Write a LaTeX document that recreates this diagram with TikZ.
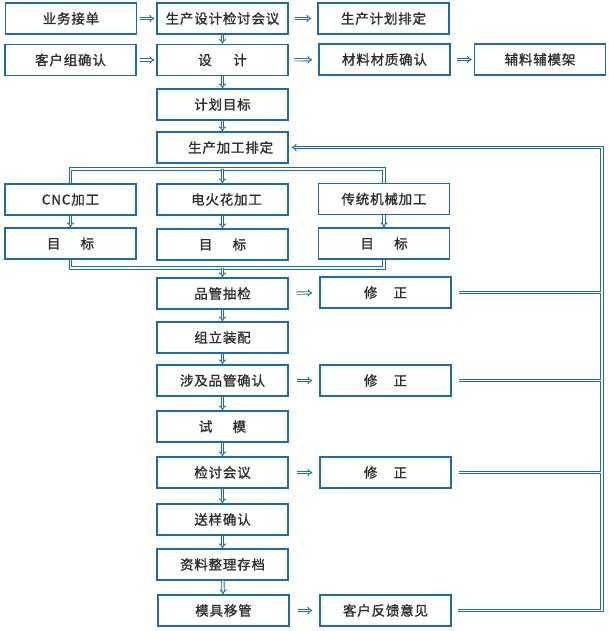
\documentclass[tikz,border=0pt]{standalone}
\usepackage{fontspec}
\setmainfont{Noto Sans CJK SC}[LetterSpace=6,FakeBold=1.2]
\usetikzlibrary{arrows.meta}
\definecolor{lineblue}{RGB}{28,108,168}
\definecolor{txtgray}{RGB}{45,45,45}
\tikzset{
  box/.style={draw=lineblue, line width=1.3pt, minimum width=131pt, minimum height=31pt,
    inner sep=0pt, text=txtgray, font=\fontsize{13.5}{15}\selectfont},
  dline/.style={draw=lineblue, double, double distance=1.5pt, line width=0.9pt},
  flow/.style={dline, -{Implies}},
}

\begin{document}
\begin{tikzpicture}[x=1pt,y=-1pt]
\useasboundingbox (0,0) rectangle (609,631);

\node[box] (A) at (71,18.5) {业务接单};
\node[box] (B) at (222.5,18.5) {生产设计检讨会议};
\node[box] (C) at (383.5,18.5) {生产计划排定};

\node[box] (D) at (70.5,60) {客户组确认};
\node[box] (E) at (222.5,60) {设\hspace{1.6em}计};
\node[box] (F) at (384.5,59.5) {材料材质确认};
\node[box] (G) at (540,59.5) {辅料辅模架};

\node[box] (H) at (222.5,104.5) {计划目标};
\node[box] (I) at (222.5,147.5) {\hspace{1.2em}生产加工排定};

\node[box] (J) at (70.5,199.5) {CNC加工};
\node[box] (K) at (222.5,199.5) {\hspace{0.6em}电火花加工};
\node[box] (L) at (384,199) {传统机械加工};

\node[box] (M) at (70.5,243.5) {目\hspace{1.5em}标};
\node[box] (N) at (222.5,244.5) {目\hspace{1.5em}标};
\node[box] (O) at (384,243.5) {目\hspace{1.5em}标};

\node[box] (P) at (222.5,293.5) {品管抽检};
\node[box] (Q) at (385.5,292.5) {修\hspace{1.2em}正};
\node[box] (R) at (222.5,337.5) {组立装配};
\node[box] (S) at (222.5,380.5) {涉及品管确认};
\node[box] (T) at (385.5,380.5) {修\hspace{1.2em}正};
\node[box] (U) at (222.5,426.5) {试\hspace{1.5em}模};
\node[box] (V) at (222.5,472.5) {检讨会议};
\node[box] (W) at (385.5,472.5) {修\hspace{1.2em}正};
\node[box] (X) at (222.5,519.5) {送样确认};
\node[box] (Y) at (222.5,564.5) {资料整理存档};
\node[box] (Z) at (223.5,610.5) {模具移管};
\node[box] (FB) at (385.5,610.5) {客户反馈意见};

\coordinate (split) at (0,169);
\coordinate (merge) at (0,268);
\coordinate (top) at (602,147.5);
\coordinate (bot) at (602,610.5);

% top rows
\draw[flow,shorten <=3pt,shorten >=2pt] (A) -- (B);
\draw[flow,shorten <=6pt,shorten >=6pt] (B) -- (C);
\draw[flow,shorten <=3pt,shorten >=2pt] (D) -- (E);
\draw[flow,shorten <=6pt,shorten >=6pt] (E) -- (F);
\draw[flow,shorten <=6pt,shorten >=2pt] (F) -- (G);
\draw[flow] (B) -- (E);
\draw[flow] (E) -- (H);
\draw[flow] (H) -- (I);

% split and merge
\draw[dline] (J.north) -- (J.north |- split) -- (L.north |- split) -- (L.north);
\draw[flow] (K.north |- split) -- (K.north);
\draw[flow] (J) -- (M);
\draw[flow] (K) -- (N);
\draw[flow] (L) -- (O);
\draw[dline] (M.south) -- (M.south |- merge) -- (O.south |- merge) -- (O.south);
\draw[flow] (N.south |- merge) -- (P.north);

% main column
\draw[flow] (P) -- (R);
\draw[flow] (R) -- (S);
\draw[flow] (S) -- (U);
\draw[flow] (U) -- (V);
\draw[flow] (V) -- (X);
\draw[flow] (X) -- (Y);
\draw[flow] (Y) -- (Z);
\draw[flow,shorten <=8pt,shorten >=7pt] (P) -- (Q);
\draw[flow,shorten <=8pt,shorten >=7pt] (S) -- (T);
\draw[flow,shorten <=8pt,shorten >=7pt] (V) -- (W);
\draw[flow,shorten <=8pt,shorten >=7pt] (Z) -- (FB);

% feedback
\draw[flow] ([xshift=7pt]Q.east) -- (Q.east -| top)
  ([xshift=7pt]T.east) -- (T.east -| top)
  ([xshift=7pt]W.east) -- (W.east -| top)
  ([xshift=6pt]FB.east) -- (bot) -- (top) -- ([xshift=3pt]I.east);
\end{tikzpicture}
\end{document}
